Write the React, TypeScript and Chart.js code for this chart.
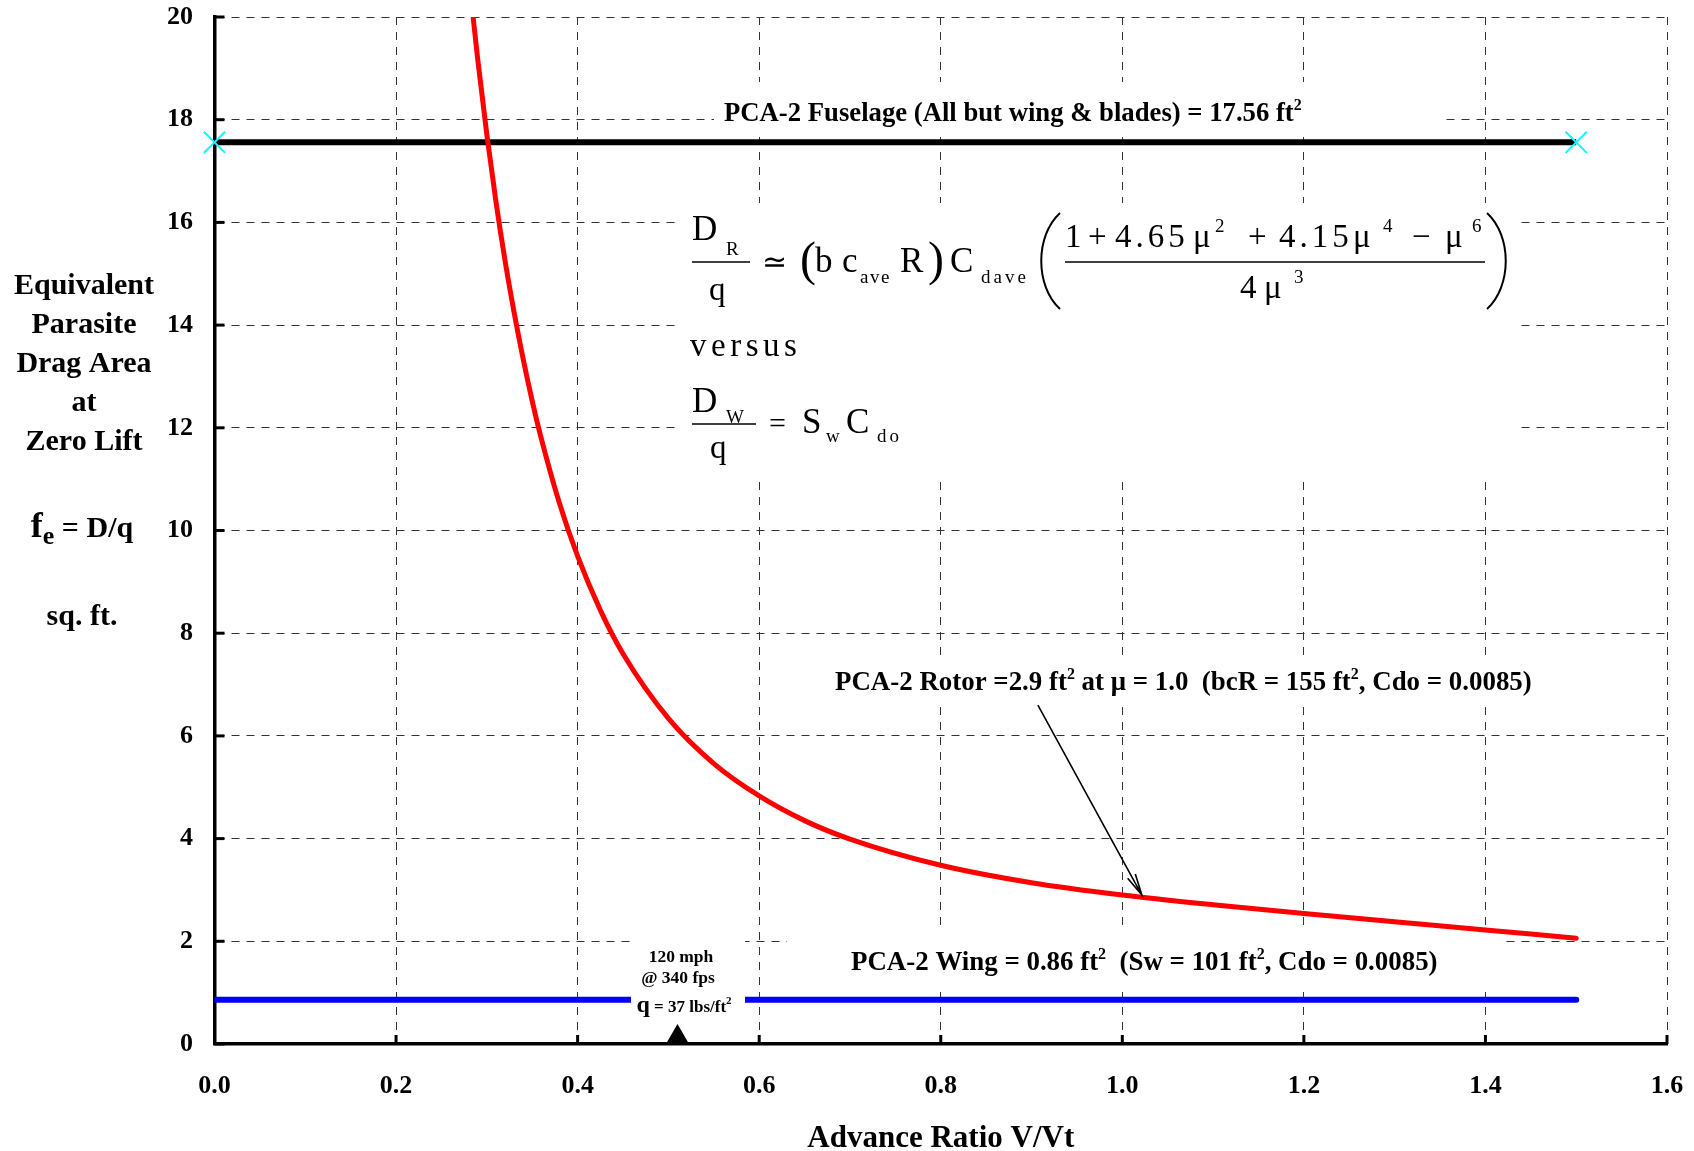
import React, { useEffect, useRef } from "react";
import { Chart, registerables } from "chart.js";

Chart.register(...registerables);

const SERIF = '"Liberation Serif", "Times New Roman", Times, serif';

// ---------------- data ----------------
const advanceRatio = [0.285, 0.29, 0.3, 0.31, 0.32, 0.33, 0.34, 0.35, 0.36, 0.38, 0.4, 0.425, 0.45, 0.5, 0.55, 0.6, 0.65, 0.7, 0.8, 0.9, 1.0, 1.1, 1.2, 1.3, 1.4, 1.5];
const rotorDragArea = [19.98, 19.17, 17.71, 16.41, 15.26, 14.25, 13.34, 12.52, 11.79, 10.53, 9.5, 8.45, 7.6, 6.34, 5.46, 4.83, 4.35, 3.99, 3.48, 3.14, 2.9, 2.71, 2.54, 2.38, 2.22, 2.06];
const fuselageAdvanceRatio = [0, 1.5];
const fuselageDragArea = [17.56, 17.56];
const wingAdvanceRatio = [0, 1.5];
const wingDragArea = [0.86, 0.86];
const speedMarkerMu = 0.51;
const xTickLabels = ["0.0", "0.2", "0.4", "0.6", "0.8", "1.0", "1.2", "1.4", "1.6"];
const yTickLabels = ["0", "2", "4", "6", "8", "10", "12", "14", "16", "18", "20"];
const yTitleLines = ["Equivalent", "Parasite", "Drag Area", "at", "Zero Lift"];
const xTitle = "Advance Ratio V/Vt";
const rotorArrowFrom = { x: 0.907, y: 6.6 };
const rotorArrowTo = { x: 1.0215, y: 2.9 };

type Run = { t: string; s: number; dy?: number; bold?: boolean; ls?: number };

function setFont(ctx: any, r: Run) {
  ctx.font = `${r.bold === false ? "" : "bold "}${r.s}px ${SERIF}`;
  ctx.letterSpacing = `${r.ls || 0}px`;
}

function drawRuns(ctx: any, runs: Run[], x: number, y: number, align: "left" | "center" = "left") {
  let total = 0;
  for (const r of runs) {
    setFont(ctx, r);
    total += ctx.measureText(r.t).width;
  }
  let cx = align === "center" ? x - total / 2 : x;
  ctx.textAlign = "left";
  ctx.textBaseline = "alphabetic";
  for (const r of runs) {
    setFont(ctx, r);
    ctx.fillText(r.t, cx, y + (r.dy || 0));
    cx += ctx.measureText(r.t).width;
  }
  ctx.letterSpacing = "0px";
}

const L = 26.9;
const SUP = (t: string, s = 16, dy = -11): Run => ({ t, s, dy });

const fuselageRuns: Run[] = [{ t: "PCA-2 Fuselage (All but wing & blades) = 17.56 ft", s: 26.7 }, SUP("2")];
const rotorRuns: Run[] = [
  { t: "PCA-2 Rotor =2.9 ft", s: L },
  SUP("2"),
  { t: " at \u03bc = 1.0  (bcR = 155 ft", s: L },
  SUP("2"),
  { t: ", Cdo = 0.0085)", s: L },
];
const wingRuns: Run[] = [
  { t: "PCA-2 Wing = 0.86 ft", s: L },
  SUP("2"),
  { t: "  (Sw = 101 ft", s: L },
  SUP("2"),
  { t: ", Cdo = 0.0085)", s: L },
];

// formula pieces: text, left x, baseline y, size, letter spacing
const F = 35;
const S = 19;
const N = 33;
const formulaPieces: [string, number, number, number, number?][] = [
  ["D", 692, 240, F], ["R", 726, 255, S], ["q", 709, 300, N],
  ["\u2243", 762, 272, 30],
  ["(", 800, 275, 48],
  ["b", 815, 272, F], ["c", 842, 272, F], ["ave", 860, 283, S, 1.5], ["R", 900, 272, F],
  [")", 928, 275, 48],
  ["C", 950, 272, F], ["dave", 981, 283, S, 3],
  ["1", 1065, 247, N], ["+", 1088, 247, N], ["4.65", 1115, 247, N, 4], ["\u03bc", 1193, 247, N], ["2", 1215, 232, S],
  ["+", 1248, 247, N], ["4.15", 1279, 247, N, 4], ["\u03bc", 1353, 247, N], ["4", 1383, 232, S],
  ["\u2212", 1412, 247, N], ["\u03bc", 1445, 247, N], ["6", 1472, 232, S],
  ["4", 1240, 298, N], ["\u03bc", 1264, 298, N], ["3", 1294, 283, S],
  ["versus", 690, 356, 33, 4.5],
  ["D", 692, 412, F], ["W", 726, 423, S], ["q", 710, 458, N],
  ["=", 769, 433, 30], ["S", 802, 433, F], ["w", 826, 442, S], ["C", 846, 433, F], ["do", 877, 442, S, 3],
];
const fractionBars: [number, number, number][] = [
  [692, 750, 262],
  [1065, 1485, 262],
  [692, 756, 424],
];

// white label backgrounds [x1, y1, x2, y2]
const labelBoxes: [number, number, number, number][] = [
  [714, 82, 1440, 136],
  [681, 203, 1521, 480],
  [830, 658, 1530, 706],
  [787, 932, 1505, 986],
];
const speedBox: [number, number, number, number] = [631, 935, 745, 1020];

const annotationPlugin = {
  id: "annotations",
  beforeDatasetsDraw(chart: any) {
    const { ctx, chartArea: a } = chart;
    const ox = a.left - 214.5;
    const oy = a.top - 17;
    ctx.save();
    ctx.fillStyle = "#ffffff";
    for (const b of labelBoxes) ctx.fillRect(b[0] + ox, b[1] + oy, b[2] - b[0], b[3] - b[1]);
    ctx.restore();
  },
  afterDatasetsDraw(chart: any) {
    const { ctx, chartArea: a, scales } = chart;
    const xs = scales.x;
    const ys = scales.y;
    const ox = a.left - 214.5;
    const oy = a.top - 17;
    ctx.save();
    ctx.fillStyle = "#ffffff";
    ctx.fillRect(speedBox[0] + ox, speedBox[1] + oy, speedBox[2] - speedBox[0], speedBox[3] - speedBox[1]);

    ctx.fillStyle = "#000";
    ctx.strokeStyle = "#000";
    ctx.lineWidth = 3;
    for (const t of ys.ticks) {
      const py = ys.getPixelForValue(t.value);
      ctx.beginPath();
      ctx.moveTo(a.left, py);
      ctx.lineTo(a.left + 10, py);
      ctx.stroke();
    }
    for (const t of xs.ticks) {
      const px = xs.getPixelForValue(t.value);
      ctx.beginPath();
      ctx.moveTo(px, a.bottom);
      ctx.lineTo(px, a.bottom - 9);
      ctx.stroke();
    }

    const tx = xs.getPixelForValue(speedMarkerMu);
    ctx.beginPath();
    ctx.moveTo(tx - 11, a.bottom - 1);
    ctx.lineTo(tx + 11, a.bottom - 1);
    ctx.lineTo(tx, a.bottom - 20);
    ctx.closePath();
    ctx.fill();

    drawRuns(ctx, fuselageRuns, 724 + ox, 120.5 + oy);
    drawRuns(ctx, rotorRuns, 835 + ox, 690 + oy);
    drawRuns(ctx, wingRuns, 851 + ox, 970 + oy);
    drawRuns(ctx, [{ t: "120 mph", s: 17.5 }], 681 + ox, 962 + oy, "center");
    drawRuns(ctx, [{ t: "@ 340 fps", s: 17.5 }], 678 + ox, 983 + oy, "center");
    drawRuns(ctx, [{ t: "q", s: 24 }, { t: " = 37 lbs/ft", s: 17 }, { t: "2", s: 11, dy: -8 }], 684 + ox, 1012 + oy, "center");

    const x1 = xs.getPixelForValue(rotorArrowFrom.x);
    const y1 = ys.getPixelForValue(rotorArrowFrom.y);
    const x2 = xs.getPixelForValue(rotorArrowTo.x);
    const y2 = ys.getPixelForValue(rotorArrowTo.y);
    ctx.lineWidth = 1.6;
    ctx.beginPath();
    ctx.moveTo(x1, y1);
    ctx.lineTo(x2, y2);
    const ang = Math.atan2(y2 - y1, x2 - x1);
    const hl = 22;
    ctx.moveTo(x2 - hl * Math.cos(ang - 0.2), y2 - hl * Math.sin(ang - 0.2));
    ctx.lineTo(x2, y2);
    ctx.lineTo(x2 - hl * Math.cos(ang + 0.2), y2 - hl * Math.sin(ang + 0.2));
    ctx.stroke();

    for (const p of formulaPieces) {
      drawRuns(ctx, [{ t: p[0], s: p[3], bold: false, ls: p[4] || 0 }], p[1] + ox, p[2] + oy);
    }
    ctx.lineWidth = 1.5;
    for (const b of fractionBars) {
      ctx.beginPath();
      ctx.moveTo(b[0] + ox, b[2] + oy);
      ctx.lineTo(b[1] + ox, b[2] + oy);
      ctx.stroke();
    }
    ctx.lineWidth = 2;
    ctx.beginPath();
    ctx.moveTo(1060 + ox, 213 + oy);
    ctx.bezierCurveTo(1035 + ox, 236 + oy, 1035 + ox, 286 + oy, 1060 + ox, 309 + oy);
    ctx.moveTo(1487 + ox, 213 + oy);
    ctx.bezierCurveTo(1512 + ox, 236 + oy, 1512 + ox, 286 + oy, 1487 + ox, 309 + oy);
    ctx.stroke();
    ctx.restore();
  },
  afterDraw(chart: any) {
    const { ctx } = chart;
    ctx.save();
    ctx.fillStyle = "#000";
    const baselines = [294, 333, 372, 411, 450];
    yTitleLines.forEach((t, i) => drawRuns(ctx, [{ t, s: 30 }], 84, baselines[i], "center"));
    drawRuns(ctx, [{ t: "f", s: 36 }, { t: "e", s: 26, dy: 7 }, { t: " = D/q", s: 30 }], 82, 537, "center");
    drawRuns(ctx, [{ t: "sq. ft.", s: 30 }], 82, 625, "center");
    ctx.restore();
  },
};

export default function App() {
  const ref = useRef<HTMLCanvasElement>(null);
  useEffect(() => {
    document.body.style.margin = "0";
    const tickFont = { family: SERIF, size: 26, weight: "bold" as const };
    const chart = new Chart(ref.current as HTMLCanvasElement, {
      type: "line",
      data: {
        datasets: [
          {
            label: "PCA-2 Rotor",
            data: advanceRatio.map((m, i) => ({ x: m, y: rotorDragArea[i] })),
            borderColor: "#ff0000",
            borderWidth: 5,
            pointRadius: 0,
            cubicInterpolationMode: "monotone",
            borderCapStyle: "round",
          },
          {
            label: "PCA-2 Fuselage",
            data: fuselageAdvanceRatio.map((m, i) => ({ x: m, y: fuselageDragArea[i] })),
            borderColor: "#000000",
            borderWidth: 6,
            pointStyle: "crossRot",
            pointRadius: 15,
            pointBorderColor: "#00ffff",
            pointBackgroundColor: "#00ffff",
            pointBorderWidth: 2,
            clip: false,
          },
          {
            label: "PCA-2 Wing",
            data: wingAdvanceRatio.map((m, i) => ({ x: m, y: wingDragArea[i] })),
            borderColor: "#0000ff",
            borderWidth: 6,
            pointRadius: 0,
            borderCapStyle: "round",
          },
        ],
      },
      options: {
        responsive: false,
        animation: false,
        devicePixelRatio: 1,
        layout: { padding: { left: 94.5, right: 27, top: 17, bottom: 0 } },
        plugins: { legend: { display: false }, tooltip: { enabled: false } },
        scales: {
          x: {
            type: "linear",
            min: 0,
            max: 1.6,
            afterFit: (s: any) => {
              s.height = 107;
              s.paddingLeft = 0;
              s.paddingRight = 0;
              s.paddingTop = 0;
              s.paddingBottom = 0;
            },
            ticks: {
              stepSize: 0.2,
              padding: 27,
              color: "#000",
              font: tickFont,
              maxRotation: 0,
              autoSkip: false,
              callback: (_v: any, i: number) => xTickLabels[i],
            },
            grid: { color: "#333", lineWidth: 1, drawTicks: false },
            border: { display: true, color: "#000", width: 3.5, dash: [8, 7] },
            title: {
              display: true,
              text: xTitle,
              color: "#000",
              font: { family: SERIF, size: 31, weight: "bold", lineHeight: 0.8 },
              padding: { top: 0, bottom: 0 },
            },
          },
          y: {
            min: 0,
            max: 20,
            afterFit: (s: any) => {
              s.width = 120;
              s.paddingLeft = 0;
              s.paddingRight = 0;
              s.paddingTop = 0;
              s.paddingBottom = 0;
            },
            ticks: {
              stepSize: 2,
              padding: 21.5,
              color: "#000",
              font: tickFont,
              callback: (_v: any, i: number) => yTickLabels[i],
            },
            grid: { color: "#333", lineWidth: 1, drawTicks: false },
            border: { display: true, color: "#000", width: 3.5, dash: [8, 7] },
          },
        },
      } as any,
      plugins: [annotationPlugin],
    });
    return () => chart.destroy();
  }, []);
  return (
    <div style={{ position: "absolute", left: 0, top: 0, width: 1694, height: 1151, background: "#fff" }}>
      <canvas ref={ref} width={1694} height={1151} style={{ display: "block", width: 1694, height: 1151 }} />
    </div>
  );
}
